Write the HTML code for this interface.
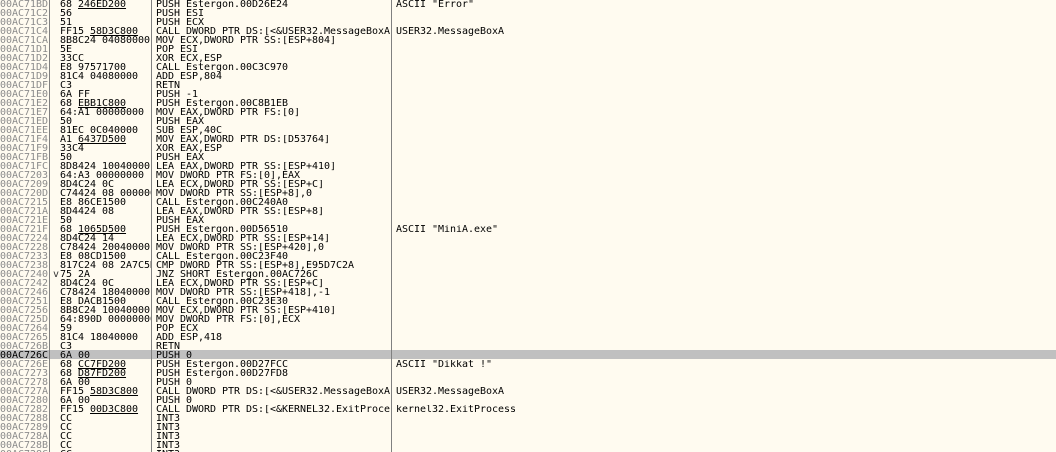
<!DOCTYPE html>
<html>
<head>
<meta charset="utf-8">
<style>
html,body{margin:0;padding:0;background:#fffbf0;}
#p{position:relative;width:1056px;height:452px;overflow:hidden;background:#fffbf0;}
.v{position:absolute;top:0;width:1px;height:452px;background:#808080;}
.hl{position:absolute;left:0;top:350px;width:1056px;height:9px;background:#c0c0c0;}
#t{position:absolute;left:0;top:0;width:1056px;font:10px/9px "DejaVu Sans Mono",monospace;letter-spacing:-0.02px;color:#000;}
.r{position:relative;height:9px;white-space:pre;}
.r span{position:absolute;top:0;overflow:hidden;height:10px;}
.a{left:0;width:48px;color:#8c8c8c;}
.h{left:60px;width:91px;}
.d{left:156px;width:235px;}
.c{left:396px;width:300px;}
.s .a{color:#000;}
u{text-decoration:underline;text-underline-offset:1px;text-decoration-thickness:1px;}
</style>
</head>
<body>
<div id="p">
<div class="hl"></div>
<div class="v" style="left:49px"></div>
<div class="v" style="left:151px"></div>
<div class="v" style="left:391px"></div>
<div id="t">
<div class="r"><span class="a">00AC71BD</span><span class="h">68 <u>246ED200</u></span><span class="d">PUSH Estergon.00D26E24</span><span class="c">ASCII "Error"</span></div>
<div class="r"><span class="a">00AC71C2</span><span class="h">56</span><span class="d">PUSH ESI</span></div>
<div class="r"><span class="a">00AC71C3</span><span class="h">51</span><span class="d">PUSH ECX</span></div>
<div class="r"><span class="a">00AC71C4</span><span class="h">FF15 <u>58D3C800</u></span><span class="d">CALL DWORD PTR DS:[&lt;&amp;USER32.MessageBoxA</span><span class="c">USER32.MessageBoxA</span></div>
<div class="r"><span class="a">00AC71CA</span><span class="h">8B8C24 04080000</span><span class="d">MOV ECX,DWORD PTR SS:[ESP+804]</span></div>
<div class="r"><span class="a">00AC71D1</span><span class="h">5E</span><span class="d">POP ESI</span></div>
<div class="r"><span class="a">00AC71D2</span><span class="h">33CC</span><span class="d">XOR ECX,ESP</span></div>
<div class="r"><span class="a">00AC71D4</span><span class="h">E8 97571700</span><span class="d">CALL Estergon.00C3C970</span></div>
<div class="r"><span class="a">00AC71D9</span><span class="h">81C4 04080000</span><span class="d">ADD ESP,804</span></div>
<div class="r"><span class="a">00AC71DF</span><span class="h">C3</span><span class="d">RETN</span></div>
<div class="r"><span class="a">00AC71E0</span><span class="h">6A FF</span><span class="d">PUSH -1</span></div>
<div class="r"><span class="a">00AC71E2</span><span class="h">68 <u>EBB1C800</u></span><span class="d">PUSH Estergon.00C8B1EB</span></div>
<div class="r"><span class="a">00AC71E7</span><span class="h">64:A1 00000000</span><span class="d">MOV EAX,DWORD PTR FS:[0]</span></div>
<div class="r"><span class="a">00AC71ED</span><span class="h">50</span><span class="d">PUSH EAX</span></div>
<div class="r"><span class="a">00AC71EE</span><span class="h">81EC 0C040000</span><span class="d">SUB ESP,40C</span></div>
<div class="r"><span class="a">00AC71F4</span><span class="h">A1 <u>6437D500</u></span><span class="d">MOV EAX,DWORD PTR DS:[D53764]</span></div>
<div class="r"><span class="a">00AC71F9</span><span class="h">33C4</span><span class="d">XOR EAX,ESP</span></div>
<div class="r"><span class="a">00AC71FB</span><span class="h">50</span><span class="d">PUSH EAX</span></div>
<div class="r"><span class="a">00AC71FC</span><span class="h">8D8424 10040000</span><span class="d">LEA EAX,DWORD PTR SS:[ESP+410]</span></div>
<div class="r"><span class="a">00AC7203</span><span class="h">64:A3 00000000</span><span class="d">MOV DWORD PTR FS:[0],EAX</span></div>
<div class="r"><span class="a">00AC7209</span><span class="h">8D4C24 0C</span><span class="d">LEA ECX,DWORD PTR SS:[ESP+C]</span></div>
<div class="r"><span class="a">00AC720D</span><span class="h">C74424 08 00000000</span><span class="d">MOV DWORD PTR SS:[ESP+8],0</span></div>
<div class="r"><span class="a">00AC7215</span><span class="h">E8 86CE1500</span><span class="d">CALL Estergon.00C240A0</span></div>
<div class="r"><span class="a">00AC721A</span><span class="h">8D4424 08</span><span class="d">LEA EAX,DWORD PTR SS:[ESP+8]</span></div>
<div class="r"><span class="a">00AC721E</span><span class="h">50</span><span class="d">PUSH EAX</span></div>
<div class="r"><span class="a">00AC721F</span><span class="h">68 <u>1065D500</u></span><span class="d">PUSH Estergon.00D56510</span><span class="c">ASCII "MiniA.exe"</span></div>
<div class="r"><span class="a">00AC7224</span><span class="h">8D4C24 14</span><span class="d">LEA ECX,DWORD PTR SS:[ESP+14]</span></div>
<div class="r"><span class="a">00AC7228</span><span class="h">C78424 20040000</span><span class="d">MOV DWORD PTR SS:[ESP+420],0</span></div>
<div class="r"><span class="a">00AC7233</span><span class="h">E8 08CD1500</span><span class="d">CALL Estergon.00C23F40</span></div>
<div class="r"><span class="a">00AC7238</span><span class="h">817C24 08 2A7C5DE9</span><span class="d">CMP DWORD PTR SS:[ESP+8],E95D7C2A</span></div>
<div class="r"><span class="a">00AC7240</span><span style="left:53px;top:0;width:7px;color:#333">v</span><span class="h">75 2A</span><span class="d">JNZ SHORT Estergon.00AC726C</span></div>
<div class="r"><span class="a">00AC7242</span><span class="h">8D4C24 0C</span><span class="d">LEA ECX,DWORD PTR SS:[ESP+C]</span></div>
<div class="r"><span class="a">00AC7246</span><span class="h">C78424 18040000</span><span class="d">MOV DWORD PTR SS:[ESP+418],-1</span></div>
<div class="r"><span class="a">00AC7251</span><span class="h">E8 DACB1500</span><span class="d">CALL Estergon.00C23E30</span></div>
<div class="r"><span class="a">00AC7256</span><span class="h">8B8C24 10040000</span><span class="d">MOV ECX,DWORD PTR SS:[ESP+410]</span></div>
<div class="r"><span class="a">00AC725D</span><span class="h">64:890D 00000000</span><span class="d">MOV DWORD PTR FS:[0],ECX</span></div>
<div class="r"><span class="a">00AC7264</span><span class="h">59</span><span class="d">POP ECX</span></div>
<div class="r"><span class="a">00AC7265</span><span class="h">81C4 18040000</span><span class="d">ADD ESP,418</span></div>
<div class="r"><span class="a">00AC726B</span><span class="h">C3</span><span class="d">RETN</span></div>
<div class="r s"><span class="a">00AC726C</span><span class="h">6A 00</span><span class="d">PUSH 0</span></div>
<div class="r"><span class="a">00AC726E</span><span class="h">68 <u>CC7FD200</u></span><span class="d">PUSH Estergon.00D27FCC</span><span class="c">ASCII "Dikkat !"</span></div>
<div class="r"><span class="a">00AC7273</span><span class="h">68 <u>D87FD200</u></span><span class="d">PUSH Estergon.00D27FD8</span></div>
<div class="r"><span class="a">00AC7278</span><span class="h">6A 00</span><span class="d">PUSH 0</span></div>
<div class="r"><span class="a">00AC727A</span><span class="h">FF15 <u>58D3C800</u></span><span class="d">CALL DWORD PTR DS:[&lt;&amp;USER32.MessageBoxA</span><span class="c">USER32.MessageBoxA</span></div>
<div class="r"><span class="a">00AC7280</span><span class="h">6A 00</span><span class="d">PUSH 0</span></div>
<div class="r"><span class="a">00AC7282</span><span class="h">FF15 <u>00D3C800</u></span><span class="d">CALL DWORD PTR DS:[&lt;&amp;KERNEL32.ExitProcess</span><span class="c">kernel32.ExitProcess</span></div>
<div class="r"><span class="a">00AC7288</span><span class="h">CC</span><span class="d">INT3</span></div>
<div class="r"><span class="a">00AC7289</span><span class="h">CC</span><span class="d">INT3</span></div>
<div class="r"><span class="a">00AC728A</span><span class="h">CC</span><span class="d">INT3</span></div>
<div class="r"><span class="a">00AC728B</span><span class="h">CC</span><span class="d">INT3</span></div>
<div class="r"><span class="a">00AC728C</span><span class="h">CC</span><span class="d">INT3</span></div>
</div>
</div>
</body>
</html>
